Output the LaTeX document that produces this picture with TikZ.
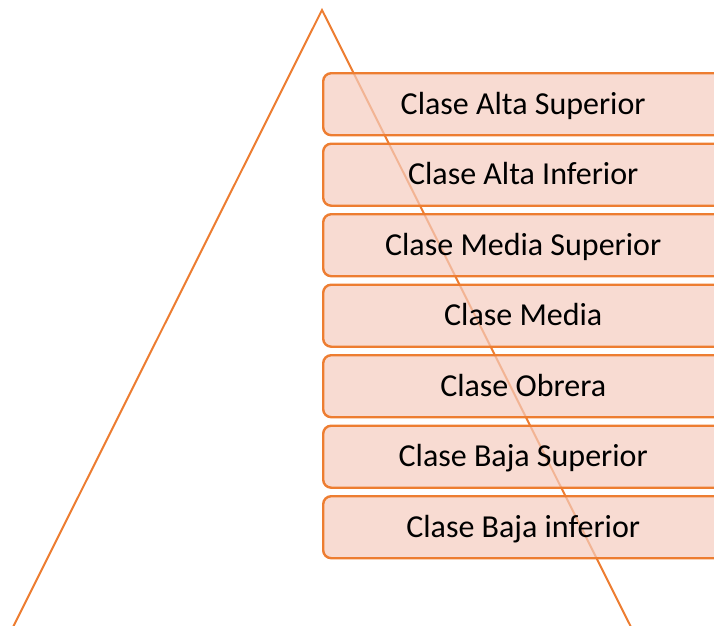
\documentclass[tikz,border=0pt]{standalone}
\usepackage{fontspec}
\setmainfont{Carlito}
\definecolor{accent}{HTML}{ED7D31}
\definecolor{tint}{HTML}{F5CCBF}
\begin{document}
\begin{tikzpicture}[x=1pt,y=-1pt,
  level/.style={draw=accent, line width=2.4pt, fill=tint, fill opacity=0.7, text opacity=1,
    rounded corners=8pt, minimum width=400pt, minimum height=62pt, inner sep=0pt,
    text height=26pt, text depth=6pt,
    anchor=north west, font=\fontsize{32}{38}\selectfont, text=black}]
  \useasboundingbox (0,0) rectangle (714,625);
  \clip (0,0) rectangle (714,625);
  % outline of the pyramid
  \coordinate (apex) at (322,10);
  \coordinate (baseL) at (9,635);
  \coordinate (baseR) at (635,635);
  \draw[accent, line width=2pt] (baseL) -- (apex) -- (baseR);
  % the seven strata
  \foreach \t [count=\i from 0] in {Clase Alta Superior, Clase Alta Inferior, Clase Media Superior,
      Clase Media, Clase Obrera, Clase Baja Superior, Clase Baja inferior}
    \node[level] (c\i) at (322, 72+70.5*\i) {\t};
\end{tikzpicture}
\end{document}
